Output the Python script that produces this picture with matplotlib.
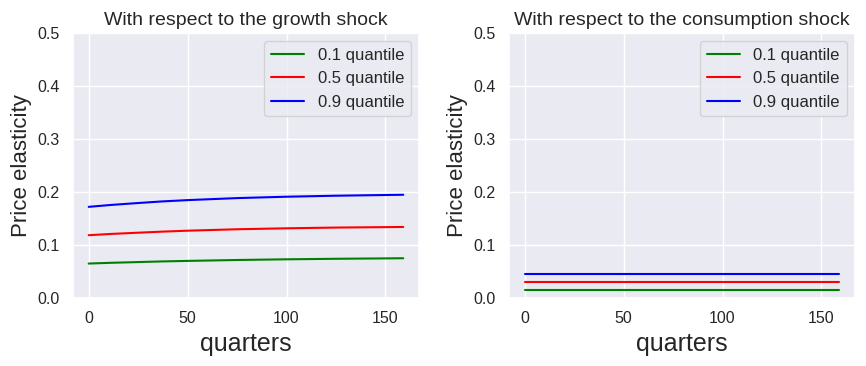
import matplotlib
matplotlib.use("Agg")
import matplotlib.pyplot as plt
from matplotlib.ticker import MultipleLocator
import seaborn as sns

# Data
quarters_growth = [0, 12, 25, 37, 50, 75, 100, 125, 159]
growth_q10 = [0.0650, 0.0665, 0.0678, 0.0690, 0.0700, 0.0717, 0.0730, 0.0740, 0.0750]
growth_q50 = [0.1185, 0.1210, 0.1232, 0.1252, 0.1270, 0.1297, 0.1315, 0.1329, 0.1340]
growth_q90 = [0.1720, 0.1758, 0.1792, 0.1822, 0.1847, 0.1885, 0.1911, 0.1930, 0.1948]

quarters_cons = [0, 159]
cons_q10 = [0.0155, 0.0155]
cons_q50 = [0.031, 0.031]
cons_q90 = [0.0445, 0.0445]

labels = ["0.1 quantile", "0.5 quantile", "0.9 quantile"]
colors = ["green", "red", "blue"]
titles = ["With respect to the growth shock", "With respect to the consumption shock"]

sns.set_theme(style="darkgrid")
plt.rcParams['font.family'] = ['Liberation Sans', 'DejaVu Sans']

fig = plt.figure(figsize=(8.66, 3.66), dpi=100)
ax1 = fig.add_axes([73/866, 68/366, 346/866, 265/366])
ax2 = fig.add_axes([509/866, 68/366, 346/866, 265/366])

panels = [
    (ax1, quarters_growth, [growth_q10, growth_q50, growth_q90], titles[0]),
    (ax2, quarters_cons, [cons_q10, cons_q50, cons_q90], titles[1]),
]
for ax, x, series, title in panels:
    for ys, lab, col in zip(series, labels, colors):
        ax.plot(x, ys, color=col, label=lab, linewidth=1.5)
    ax.set_ylim(0, 0.5)
    ax.xaxis.set_major_locator(MultipleLocator(50))
    ax.set_title(title, fontsize=14)
    ax.set_xlabel("quarters", fontsize=18)
    ax.set_ylabel("Price elasticity", fontsize=16)
    ax.tick_params(labelsize=11.5)
    ax.legend(loc="upper right", fontsize=12)

fig.savefig("out.png", dpi=100)
